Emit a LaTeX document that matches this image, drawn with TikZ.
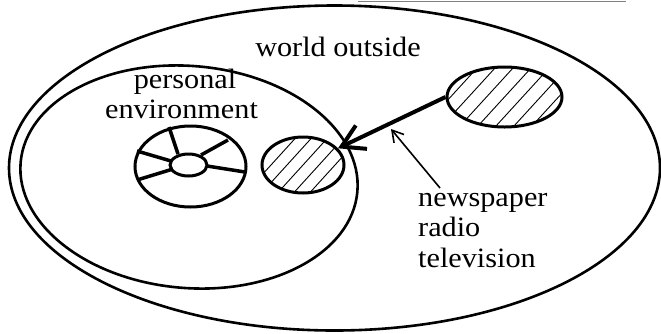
\documentclass[tikz,border=0pt]{standalone}
\usepackage{fontspec}
\setmainfont{Liberation Serif}[FakeStretch=1.08]
\usetikzlibrary{shapes.geometric,arrows.meta}
\begin{document}
\begin{tikzpicture}[x=1pt,y=-1pt,
  ell/.style={ellipse, draw, inner sep=0pt, line width=2.6pt},
  rim/.style={ellipse, draw, inner sep=0pt, line width=3pt},
  lbl/.style={font=\fontsize{28}{30}\selectfont, inner sep=0pt},
  hatch/.style={line width=0.9pt},
  spoke/.style={line width=3.5pt},
  bigarrow/.style={line width=4pt, -{Straight Barb[length=22pt,width=26pt]}},
  thinarrow/.style={line width=1.6pt, -{Straight Barb[length=11pt,width=13pt]}}]
\useasboundingbox (0,0) rectangle (661,333);
\draw[gray, line width=1pt] (358,1) -- (626,1);
% big ellipses
\node[ell, minimum width=651pt, minimum height=325pt] (world) at (334.5,168) {};
\node[ell, minimum width=338pt, minimum height=222pt, rotate=-5] (personal) at (189,177) {};
% wheel
\node[rim, minimum width=111pt, minimum height=81pt] (wheel) at (190.5,166.5) {};
\node[rim, minimum width=37pt, minimum height=22pt] (hub) at (188.5,165) {};
\draw[spoke] (178,154) -- (169,127);
\draw[spoke] (201,155) -- (228,140);
\draw[spoke] (171,161) -- (137,151);
\draw[spoke] (173,169) -- (137,180);
\draw[spoke] (207,166) -- (245,172);
% small hatched ellipse
\begin{scope}
  \clip (303,165) ellipse [x radius=40, y radius=27];
  \foreach \i in {-4,...,4} \draw[hatch] ({303+\i*16-30},198) -- ++(60,-66);
\end{scope}
\node[rim, minimum width=82pt, minimum height=56pt] (near) at (303,165) {};
% far hatched ellipse
\begin{scope}
  \clip (504.5,97) ellipse [x radius=57, y radius=29.5];
  \foreach \i in {-5,...,5} \draw[hatch] ({504.5+\i*18-32},132) -- ++(64,-70);
\end{scope}
\node[rim, minimum width=115pt, minimum height=60pt] (far) at (504.5,97) {};
% arrows
\draw[bigarrow] (far.west) -- (near);
\coordinate (shaftpt) at (391,129);
\coordinate (mediatop) at (440,188);
\draw[thinarrow] (mediatop) -- (shaftpt);
% labels
\node[lbl, anchor=base] (worldlbl) at (338,56) {world outside};
\node[lbl, anchor=base] (pers1) at (185,88) {personal};
\node[lbl, anchor=base] (pers2) at (181.5,118) {environment};
\node[lbl, anchor=base west] (news) at (418,206) {newspaper};
\node[lbl, anchor=base west] (radio) at (418,236) {radio};
\node[lbl, anchor=base west] (tv) at (418,267) {television};
\end{tikzpicture}
\end{document}
